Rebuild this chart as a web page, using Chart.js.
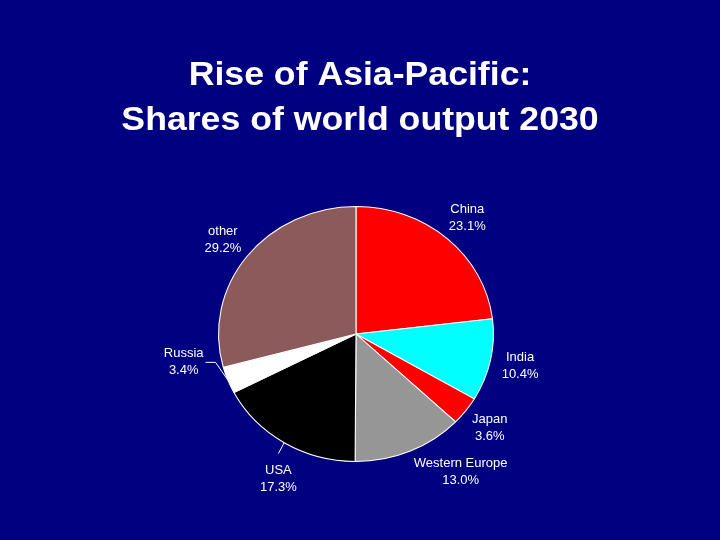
<!DOCTYPE html>
<html>
<head>
<meta charset="utf-8">
<title>Rise of Asia-Pacific</title>
<script src="https://cdn.jsdelivr.net/npm/chart.js@4"></script>
<style>
    html, body { margin: 0; padding: 0; background: #000080; }
    #wrap { width: 720px; height: 540px; position: relative; }
</style>
</head>
<body>
<div id="wrap"><canvas id="pieChart" width="720" height="540"></canvas></div>
<script>
const titleLines = ['Rise of Asia-Pacific:', 'Shares of world output 2030'];
const regions = ['China', 'India', 'Japan', 'Western Europe', 'USA', 'Russia', 'other'];
const shares = [23.1, 10.4, 3.6, 13.0, 17.3, 3.4, 29.2];
const sliceColors = ['#ff0000', '#00ffff', '#ff0000', '#969696', '#000000', '#ffffff', '#8c5a5a'];

// the slide is a bit wider than tall, so the pie is an ellipse
const STRETCH = 1.078;
const FONT = 'Arial, "Liberation Sans", sans-serif';

// labels that were dragged away from their default spot, with leader lines
const labelNudge = {
    'Western Europe': { dx: 39, dy: -5 },
    'USA': { dx: 10, dy: 12, leader: 'top' },
    'Russia': { dx: -16, dy: -28, leader: 'side' }
};

const stretchPlugin = {
    id: 'stretch',
    beforeDatasetsDraw(chart) {
        const arc = chart.getDatasetMeta(0).data[0];
        const ctx = chart.ctx;
        ctx.save();
        ctx.translate(arc.x, arc.y);
        ctx.scale(STRETCH, 1);
        ctx.translate(-arc.x, -arc.y);
    },
    afterDatasetsDraw(chart) {
        chart.ctx.restore();
    }
};

const textPlugin = {
    id: 'slideText',
    afterDraw(chart) {
        const ctx = chart.ctx;
        ctx.save();
        ctx.fillStyle = '#ffffff';
        ctx.strokeStyle = '#ffffff';

        // title
        ctx.font = 'bold 33px ' + FONT;
        ctx.textAlign = 'center';
        ctx.textBaseline = 'alphabetic';
        titleLines.forEach((line, i) => {
            ctx.save();
            ctx.translate(360, 85 + i * 45);
            ctx.scale(1.08, 1);
            ctx.fillText(line, 0, 0);
            ctx.restore();
        });

        // slice labels
        ctx.font = '13px ' + FONT;
        ctx.textBaseline = 'middle';
        ctx.lineWidth = 1;
        const arcs = chart.getDatasetMeta(0).data;
        arcs.forEach((arc, i) => {
            const name = regions[i];
            const mid = (arc.startAngle + arc.endAngle) / 2;
            const r = arc.outerRadius * 1.22;
            const nudge = labelNudge[name] || { dx: 0, dy: 0 };
            const x = arc.x + Math.cos(mid) * r * STRETCH + nudge.dx;
            const y = arc.y + Math.sin(mid) * r + nudge.dy;
            ctx.fillText(name, x, y - 8.5);
            ctx.fillText(shares[i].toFixed(1) + '%', x, y + 8.5);

            if (nudge.leader) {
                const ex = arc.x + Math.cos(mid) * arc.outerRadius * STRETCH;
                const ey = arc.y + Math.sin(mid) * arc.outerRadius;
                ctx.beginPath();
                ctx.moveTo(ex, ey);
                if (nudge.leader === 'side') {
                    const right = x + ctx.measureText(name).width / 2;
                    ctx.lineTo(right + 12, y);
                    ctx.lineTo(right + 2, y);
                } else {
                    ctx.lineTo(x, y - 25);
                }
                ctx.stroke();
            }
        });
        ctx.restore();
    }
};

new Chart(document.getElementById('pieChart'), {
    type: 'pie',
    data: {
        labels: regions,
        datasets: [{
            data: shares,
            backgroundColor: sliceColors,
            borderColor: '#ffffff',
            borderWidth: 1
        }]
    },
    options: {
        responsive: false,
        animation: false,
        layout: {
            padding: { top: 206, bottom: 78, left: 228, right: 236 }
        },
        plugins: {
            legend: { display: false },
            tooltip: { enabled: false }
        }
    },
    plugins: [stretchPlugin, textPlugin]
});
</script>
</body>
</html>
